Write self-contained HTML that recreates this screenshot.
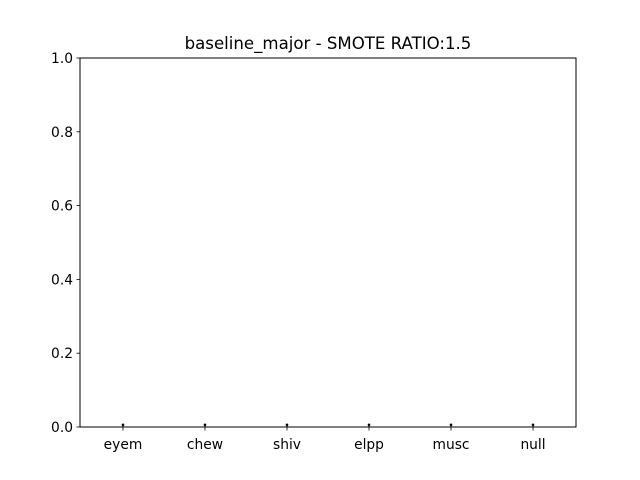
<!DOCTYPE html>
<html><head><meta charset="utf-8"><style>
html,body{margin:0;padding:0;background:#fff;}
svg{display:block;font-family:"DejaVu Sans","Liberation Sans",sans-serif;}
</style></head><body>
<svg id="chart" width="640" height="480" viewBox="0 0 640 480">
<rect width="640" height="480" fill="#fff"/>
<text x="328" y="49" text-anchor="middle" font-size="16.6">baseline_major - SMOTE RATIO:1.5</text>
<g id="ticks"></g>
<g id="marks"></g>
<rect x="80" y="58" width="496" height="369" fill="none" stroke="#000" stroke-width="1"/>
</svg>
<script>
const categories = ["eyem","chew","shiv","elpp","musc","null"];
const values = [0,0,0,0,0,0];
const errors = [0.006,0.006,0.006,0.006,0.006,0.006];
const yTicks = [0,0.2,0.4,0.6,0.8,1.0];
const yTickLabels = ["0.0","0.2","0.4","0.6","0.8","1.0"];

const NS="http://www.w3.org/2000/svg";
const X0=80,X1=576,Y0=427,Y1=58;
function xs(i){return X0+(i+0.524)/(5.524+0.524)*(X1-X0);}
function ys(v){return Y0-(v-0)/(1-0)*(Y0-Y1);}
function mk(tag,attrs,parent){const e=document.createElementNS(NS,tag);for(const k in attrs)e.setAttribute(k,attrs[k]);parent.appendChild(e);return e;}
const tg=document.getElementById('ticks'), mg=document.getElementById('marks');
yTicks.forEach((t,i)=>{
  const y=ys(t);
  const l=mk('line',{x1:X0-3.5,x2:X0,y1:y,y2:y,stroke:'#000','stroke-width':0.8},tg);
  
  
  const tx=mk('text',{x:X0-7,y:y+5,'text-anchor':'end','font-size':'13.8'},tg);
  tx.textContent=yTickLabels[i];
  
  
});
categories.forEach((c,i)=>{
  const x=xs(i);
  const l=mk('line',{x1:x,x2:x,y1:Y0,y2:Y0+3.5,stroke:'#000','stroke-width':0.8},tg);
  
  
  const tx=mk('text',{x:x,y:Y0+22,'text-anchor':'middle','font-size':'13.8'},tg);
  tx.textContent=c;
  
  
  const yv=ys(values[i]), ye=ys(values[i]+errors[i]);
  const eb=mk('line',{x1:x,x2:x,y1:yv,y2:ye,stroke:'#000','stroke-width':1},mg);
  
  
  const cap=mk('circle',{cx:x,cy:ye,r:1.3,fill:'#000'},mg);
  
  
});
</script>
</body></html>
